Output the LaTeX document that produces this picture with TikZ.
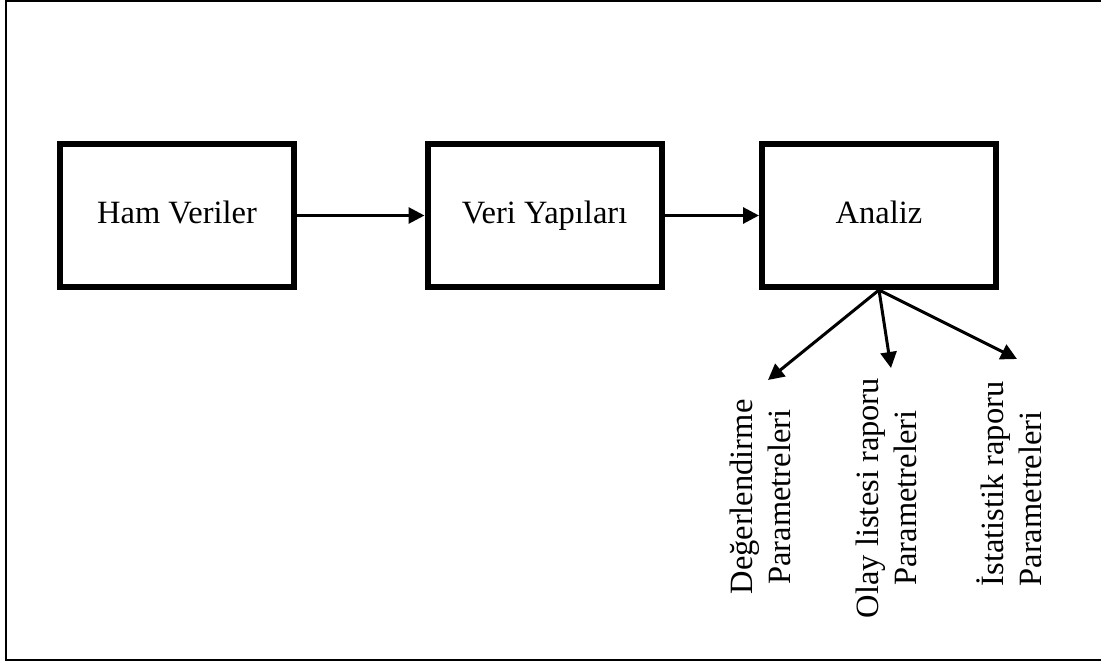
\documentclass[tikz,border=0pt]{standalone}
\usepackage{fontspec}
\setmainfont{Liberation Serif}
\usetikzlibrary{arrows.meta}

\begin{document}
\begin{tikzpicture}[x=1pt, y=-1pt,
  every node/.style={font=\fontsize{32.5}{38}\selectfont},
  stage/.style={draw, line width=6pt, minimum width=234pt, minimum height=143pt,
    inner sep=0pt, text height=22pt, text depth=7pt},
  flow/.style={line width=3pt, -{Triangle[length=16pt, width=16pt]}},
  param/.style={rotate=90, inner sep=0pt}]
  \useasboundingbox (0,0) rectangle (1101,661);

  % frame (open on the right side)
  \draw[line width=2pt] (1101,1) -- (6,1) -- (6,660) -- (1101,660);

  % processing stages
  \node[stage] (ham)    at (177,215.5)   {Ham Veriler};
  \node[stage] (yapi)   at (544.5,215.5) {Veri Yapıları};
  \node[stage] (analiz) at (879,215.5)   {Analiz};

  \draw[flow] (ham.east)  -- (yapi.west);
  \draw[flow] (yapi.east) -- (analiz.west);

  % report parameters
  \node[param, align=center] (deger) at (760.5,497) {Değerlendirme\\Parametreleri};
  \node[param, align=center] (olay)  at (886.5,498) {Olay listesi raporu\\Parametreleri};
  \node[param, align=left]   (ista)  at (1009,484)  {İstatistik raporu\\Parametreleri};

  \coordinate (tdeger) at (768,380);
  \coordinate (tolay)  at (891,368);
  \coordinate (tista)  at (1017,359);

  \draw[flow] (analiz.south) -- (tdeger);
  \draw[flow] (analiz.south) -- (tolay);
  \draw[flow] (analiz.south) -- (tista);
\end{tikzpicture}
\end{document}
